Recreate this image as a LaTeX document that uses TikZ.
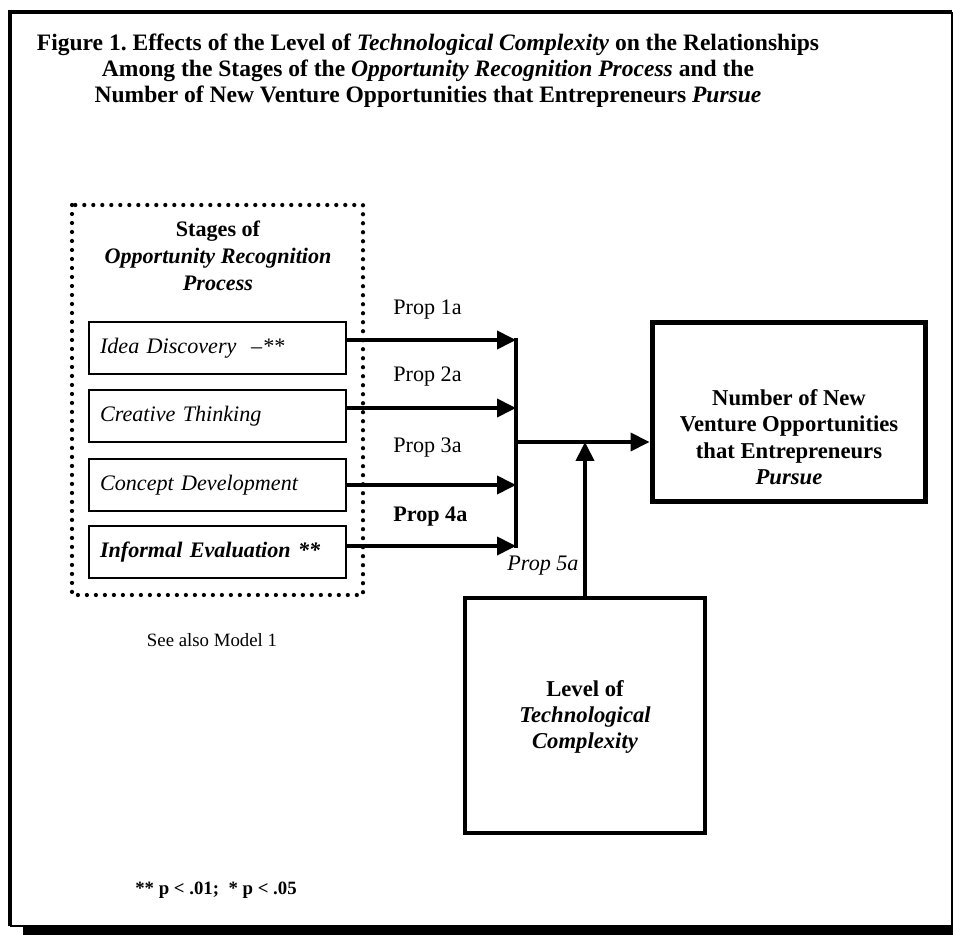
\documentclass[tikz,border=0pt]{standalone}
\usepackage{fontspec}
\setmainfont{Liberation Serif}
\usetikzlibrary{arrows.meta,positioning}
\frenchspacing

\newcommand{\bigtext}{\fontsize{12.6}{14.8}\selectfont}
\newcommand{\smalltext}{\fontsize{10.7}{12.8}\selectfont}

\tikzset{
    stagebox/.style={draw, line width=0.6pt, text width=4.7cm, inner xsep=0.22cm,
        minimum height=1.04cm, align=left, font=\bigtext\itshape},
    varbox/.style={draw, inner sep=0pt},
    vartext/.style={align=center, font=\fontsize{12.9}{15}\selectfont\bfseries},
    link/.style={line width=2.2pt, -{Triangle[length=0.38cm,width=0.36cm]}},
    proplabel/.style={anchor=west, inner sep=0pt, font=\bigtext},
}

\begin{document}
\begin{tikzpicture}[x=0.02cm, y=-0.02cm]

    \useasboundingbox (0,0) rectangle (953,935);

    % frame with shadow
    \draw[line width=0.07cm] (10,926) -- (10,12) -- (952,12);
    \draw[line width=0.6pt] (952,12) -- (952,926) -- (10,926);
    \fill (23,926) rectangle (953,935);

    \node[align=center, font=\fontsize{13.4}{14.8}\selectfont\bfseries] (title) at (428,71)
        {Figure 1. Effects of the Level of \textit{Technological Complexity} on the Relationships\\
         Among the Stages of the \textit{Opportunity Recognition Process} and the\\
         Number of New Venture Opportunities that Entrepreneurs \textit{Pursue}};

    % stages
    \draw[line width=2.4pt, line cap=round, dash pattern=on 0pt off 0.18cm] (72,205) rectangle (363,595);
    \node[align=center, font=\fontsize{12.6}{15.4}\selectfont\bfseries] (stages) at (218,256)
        {Stages of\\ \textit{Opportunity Recognition}\\ \textit{Process}};

    \node[stagebox] (idea) at (217.5,348) {Idea Discovery \ --**};
    \node[stagebox] (creative) at (217.5,416) {Creative Thinking};
    \node[stagebox] (concept) at (217.5,485) {Concept Development};
    \node[stagebox, font=\bigtext\bfseries\itshape] (informal) at (217.5,552) {Informal Evaluation **};

    \coordinate (j1) at (516,340);
    \coordinate (j2) at (516,408);
    \coordinate (j3) at (516,485);
    \coordinate (j4) at (516,546);
    \coordinate (jm) at (516,442);

    \draw[link] (idea.east |- j1) -- (j1);
    \draw[link] (creative.east |- j2) -- (j2);
    \draw[link] (concept.east |- j3) -- (j3);
    \draw[link] (informal.east |- j4) -- (j4);
    \draw[line width=2.2pt, line cap=rect] (j1) -- (j4);

    \node[proplabel] (p1) at (393,310) {Prop 1a};
    \node[proplabel] (p2) at (393,377) {Prop 2a};
    \node[proplabel] (p3) at (393,448) {Prop 3a};
    \node[proplabel, font=\bigtext\bfseries] (p4) at (393,517) {Prop 4a};

    % outcome and moderator
    \node[varbox, line width=0.1cm, minimum width=5.48cm, minimum height=3.6cm] (outcome) at (789,412) {};
    \node[vartext] (outcometext) at (789,437)
        {Number of New\\ Venture Opportunities\\ that Entrepreneurs\\ \textit{Pursue}};
    \node[varbox, line width=0.08cm, minimum width=4.8cm, minimum height=4.7cm] (tech) at (585,715.5) {};
    \node[vartext] (techtext) at (585,717)
        {Level of\\ \textit{Technological}\\ \textit{Complexity}};

    \draw[link] (jm) -- (outcome.west |- jm);
    \draw[link] (tech.north) -- (tech.north |- jm);

    \node[font=\bigtext\itshape] (p5) at (543,566) {Prop 5a};

    \node[font=\smalltext] (model) at (212,640) {See also Model 1};
    \node[font=\smalltext\bfseries] (note) at (216,890) {** p < .01;\ \ * p < .05};

\end{tikzpicture}
\end{document}
